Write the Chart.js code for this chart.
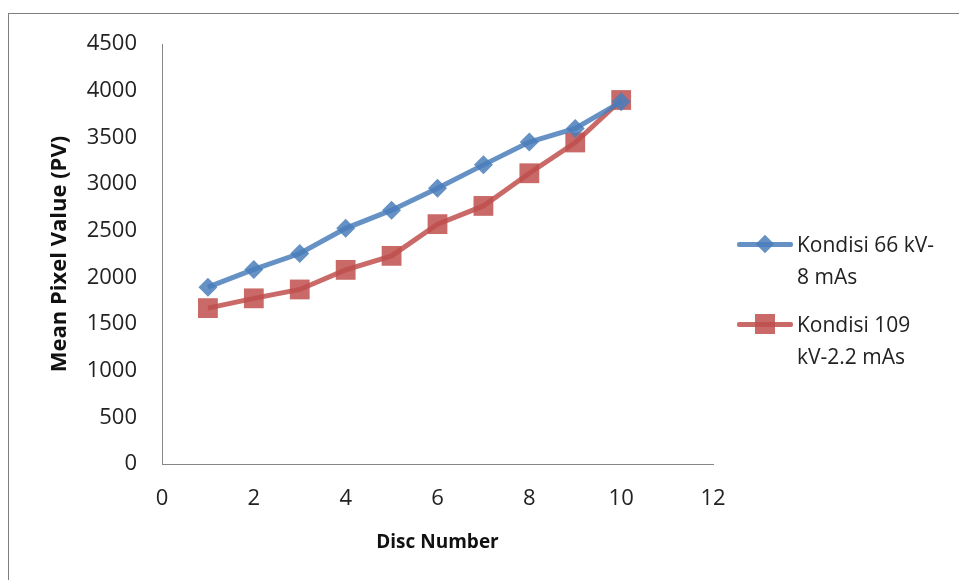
<!DOCTYPE html>
<html lang="en">
<head>
  <meta charset="UTF-8" />
  <title>Mean Pixel Value per Disc</title>
  <script src="https://cdn.jsdelivr.net/npm/chart.js"></script>
  <style>
    html, body { margin: 0; padding: 0; background: #fff; }
    .wrap { position: relative; width: 959px; height: 580px; overflow: hidden; font-family: "Open Sans", sans-serif; }
    .frame { position: absolute; left: 8px; top: 13px; width: 1000px; height: 600px; border: 1px solid #7f7f7f; box-sizing: border-box; }
    canvas { position: absolute; left: 0; top: 0; }
    .legend { position: absolute; left: 737px; top: 228px; color: #222; font-size: 21px; line-height: 32px; }
    .legend .item { display: flex; align-items: flex-start; margin-bottom: 16px; }
    .legend .swatch { position: relative; width: 56px; height: 32px; margin-right: 4px; flex: none; }
    .legend .swatch .ln { position: absolute; left: 0; right: 0; top: 14px; height: 5px; border-radius: 2px; }
    .legend .swatch .mk { position: absolute; left: 50%; top: 16px; transform: translate(-50%, -50%); }
  </style>
</head>
<body>
  <div class="wrap">
    <div class="frame"></div>
    <canvas id="chart" width="959" height="580"></canvas>
    <div class="legend" id="legend"></div>
  </div>

  <script>
    const discs = [1, 2, 3, 4, 5, 6, 7, 8, 9, 10];
    const kondisi66 = [1895, 2085, 2255, 2525, 2720, 2955, 3205, 3450, 3595, 3880];
    const kondisi109 = [1670, 1775, 1870, 2080, 2230, 2570, 2765, 3115, 3445, 3900];
    const seriesNames = [['Kondisi 66 kV-', '8 mAs'], ['Kondisi 109', 'kV-2.2 mAs']];
    const yTicks = [0, 500, 1000, 1500, 2000, 2500, 3000, 3500, 4000, 4500];
    const xTicks = [0, 2, 4, 6, 8, 10, 12];

    const blue = 'rgba(74, 126, 187, 0.85)';
    const red = 'rgba(192, 80, 77, 0.85)';
    const font = 'Open Sans';

    const toPoints = vals => vals.map((v, i) => ({ x: discs[i], y: v }));

    const datasets = [
      {
        label: seriesNames[0].join(' '),
        data: toPoints(kondisi66),
        borderColor: blue,
        backgroundColor: blue,
        borderWidth: 5,
        pointStyle: 'rectRot',
        pointRadius: 9.5,
        pointBorderWidth: 0
      },
      {
        label: seriesNames[1].join(' '),
        data: toPoints(kondisi109),
        borderColor: red,
        backgroundColor: red,
        borderWidth: 5,
        pointStyle: 'rect',
        pointRadius: 14,
        pointBorderWidth: 0
      }
    ];

    new Chart(document.getElementById('chart'), {
      type: 'line',
      data: { datasets },
      options: {
        responsive: false,
        animation: false,
        layout: { padding: { left: 8, top: 44, right: 246, bottom: 26 } },
        plugins: { legend: { display: false }, tooltip: { enabled: false } },
        scales: {
          x: {
            type: 'linear',
            min: 0,
            max: 12,
            afterBuildTicks: axis => { axis.ticks = xTicks.map(v => ({ value: v })); },
            afterFit: axis => { axis.height = 90; },
            grid: { display: false, drawTicks: false },
            border: { color: '#868686', width: 1 },
            ticks: { color: '#222', padding: 22, font: { family: font, size: 22 }, callback: v => String(v) },
            title: { display: true, text: 'Disc Number', color: '#111', padding: { top: 4, bottom: 0 }, font: { family: font, size: 19, weight: 'bold' } }
          },
          y: {
            min: 0,
            max: 4500,
            afterBuildTicks: axis => { axis.ticks = yTicks.map(v => ({ value: v })); },
            afterFit: axis => { axis.width = 154; },
            grid: { display: false, drawTicks: false },
            border: { color: '#868686', width: 1 },
            ticks: { color: '#222', padding: 25, font: { family: font, size: 22 }, callback: v => String(v) },
            title: { display: true, text: 'Mean Pixel Value (PV)', color: '#111', padding: { top: 39, bottom: 0 }, font: { family: font, size: 22, weight: 'bold' } }
          }
        }
      }
    });

    // legend with two-line labels, placed right of the plot
    const legend = document.getElementById('legend');
    const markers = [
      '<div class="mk" style="width:13px;height:13px;background:' + blue + ';transform:translate(-50%,-50%) rotate(45deg)"></div>',
      '<div class="mk" style="width:20px;height:20px;background:' + red + '"></div>'
    ];
    [blue, red].forEach((c, i) => {
      const item = document.createElement('div');
      item.className = 'item';
      item.innerHTML = '<div class="swatch"><div class="ln" style="background:' + c + '"></div>' + markers[i] + '</div>' +
        '<div>' + seriesNames[i].join('<br>') + '</div>';
      legend.appendChild(item);
    });
  </script>
</body>
</html>
